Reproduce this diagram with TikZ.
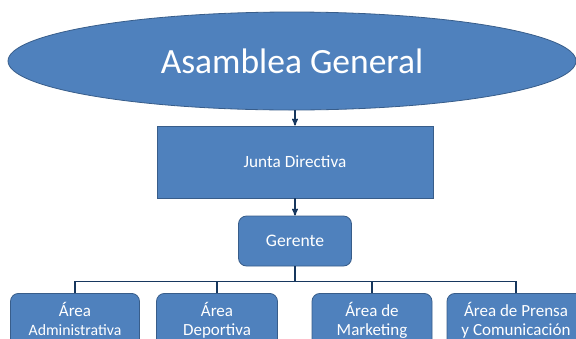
\documentclass[tikz,border=0pt]{standalone}
\usepackage{fontspec}
\setmainfont{Carlito}
\usepackage{tikz}
\usetikzlibrary{arrows,shapes.geometric,positioning}

\definecolor{azul}{HTML}{4F81BD}
\definecolor{borde}{HTML}{385D8A}
\definecolor{linea}{HTML}{17375E}

\begin{document}
\begin{tikzpicture}[x=1pt,y=-1pt,>=stealth',
    caja/.style={draw=borde,fill=azul,text=white,line width=0.8pt,inner sep=3pt},
    area/.style={caja,rounded corners=8pt,align=center,anchor=north,
      minimum width=#1,text height=39pt,text depth=20pt,font=\fontsize{17}{19}\selectfont},
    conector/.style={draw=linea,line width=1.4pt}]
    \useasboundingbox (0,0) rectangle (576,338);
    \clip (0,0) rectangle (576,338);

    \node[caja,ellipse,minimum width=568pt,minimum height=98pt,
      font=\fontsize{35.5}{40}\selectfont] (asamblea) at (292,61) {Asamblea General};
    \node[caja,minimum width=276pt,minimum height=72pt,
      font=\fontsize{17.2}{20}\selectfont] (junta) at (295,162) {Junta Directiva};
    \node[caja,rounded corners=8pt,minimum width=113pt,minimum height=50pt,
      font=\fontsize{17.6}{20}\selectfont] (gerente) at (295,241) {Gerente};

    \node[area=129pt] (a1) at (75,293) {Área\\{\fontsize{15.8}{19}\selectfont Administrativa}};
    \node[area=121pt] (a2) at (217,293) {Área\\Deportiva};
    \node[area=120pt] (a3) at (372,293) {Área de\\Marketing};
    \node[area=138pt] (a4) at (516,293) {Área de Prensa\\y Comunicación};

    \path[conector,->]
    (asamblea.south -| junta.north) -- (junta.north);
    \path[conector,->]
    (junta.south) -- (gerente.north);
    \foreach \n in {a1,a2,a3,a4}
      \path[conector] (gerente.south) -- ++(0,15) -| (\n.north);
  \end{tikzpicture}
\end{document}
